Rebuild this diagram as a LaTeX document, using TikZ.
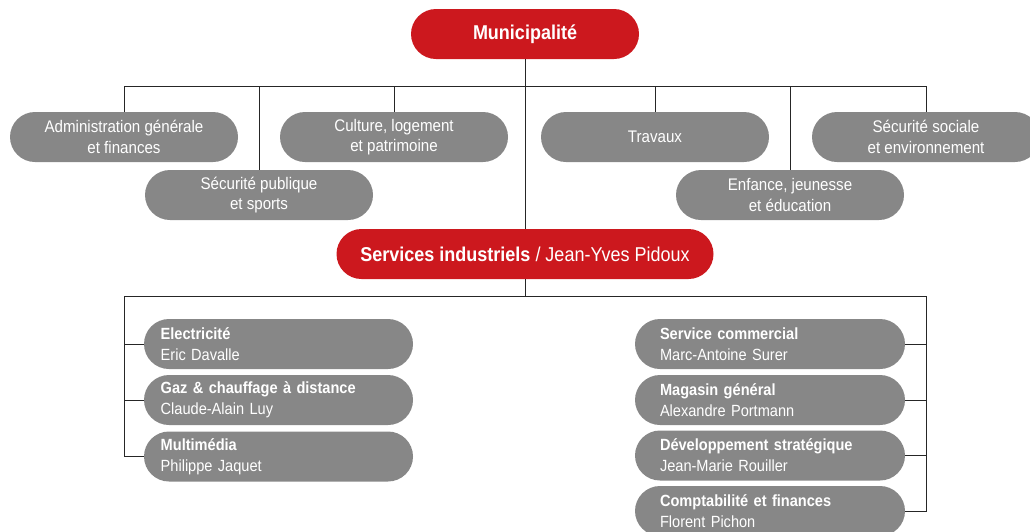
\documentclass[tikz,border=0pt]{standalone}
\usepackage{fontspec}
\setmainfont{Liberation Sans}[FakeStretch=0.9]
\definecolor{redbox}{HTML}{CC181E}
\definecolor{graybox}{HTML}{878787}
\begin{document}
\begin{tikzpicture}[x=1pt,y=-1pt,
  pill/.style={rectangle, rounded corners=25pt, minimum height=50pt, inner sep=0pt, text=white},
  head/.style={pill, fill=redbox, align=center, font=\fontsize{20}{22}\selectfont},
  dept/.style={pill, fill=graybox, minimum width=228pt, align=center, font=\fontsize{16.8}{20.5}\selectfont},
  unitL/.style={pill, fill=graybox, inner xsep=16.7pt, text width=235.6pt, align=left, font=\fontsize{16.2}{21}\selectfont},
  unitR/.style={pill, fill=graybox, inner xsep=25pt, text width=220pt, align=left, font=\fontsize{16.2}{21}\selectfont},
  link/.style={draw=black!85, line width=1pt}]
\useasboundingbox (0,0) rectangle (1030,531);

% top level
\node[head, minimum width=228pt] (muni) at (525,34) {\textbf{Municipalité}};

% departments
\node[dept] (admin)   at (124,137) {Administration générale\\et finances};
\node[dept] (culture) at (394,137) {Culture, logement\\et patrimoine};
\node[dept] (travaux) at (655,137) {Travaux};
\node[dept] (secsoc)  at (926,137) {Sécurité sociale\\et environnement};
\node[dept] (secpub)  at (259,195) {Sécurité publique\\et sports};
\node[dept] (enfance) at (790,195) {Enfance, jeunesse\\et éducation};

% industrial services
\node[head, minimum width=377pt] (si) at (525,254) {\textbf{Services industriels} / Jean-Yves Pidoux};

% units
\node[unitL] (elec)  at (278.5,344)   {\textbf{Electricité}\\Eric Davalle};
\node[unitL] (gaz)   at (278.5,400)   {\textbf{Gaz \& chauffage à distance}\\Claude-Alain Luy};
\node[unitL] (multi) at (278.5,456.5) {\textbf{Multimédia}\\Philippe Jaquet};

\node[unitR] (comm)  at (770,344)   {\textbf{Service commercial}\\Marc-Antoine Surer};
\node[unitR] (mag)   at (770,400)   {\textbf{Magasin général}\\Alexandre Portmann};
\node[unitR] (dev)   at (770,455.5) {\textbf{Développement stratégique}\\Jean-Marie Rouiller};
\node[unitR] (compta) at (770,511)  {\textbf{Comptabilité et finances}\\Florent Pichon};

% connectors, upper tree
\coordinate (barL) at (124,86);
\coordinate (barR) at (926,86);
\draw[link] (muni.south) -- (si.north);
\draw[link] (barL) -- (barR);
\foreach \n in {admin,culture,travaux,secsoc,secpub,enfance}
  \draw[link] (\n.north) -- (\n.north |- barL);

% connectors, lower tree
\coordinate (lowL) at (124,296);
\coordinate (lowR) at (926,296);
\draw[link] (si.south) -- (si.south |- lowL);
\draw[link] (lowL) -- (lowR);
\draw[link] (lowL) |- (multi.west);
\draw[link] (lowL |- elec.west) -- (elec.west);
\draw[link] (lowL |- gaz.west) -- (gaz.west);
\draw[link] (lowR) |- (compta.east);
\draw[link] (lowR |- comm.east) -- (comm.east);
\draw[link] (lowR |- mag.east) -- (mag.east);
\draw[link] (lowR |- dev.east) -- (dev.east);
\end{tikzpicture}
\end{document}
